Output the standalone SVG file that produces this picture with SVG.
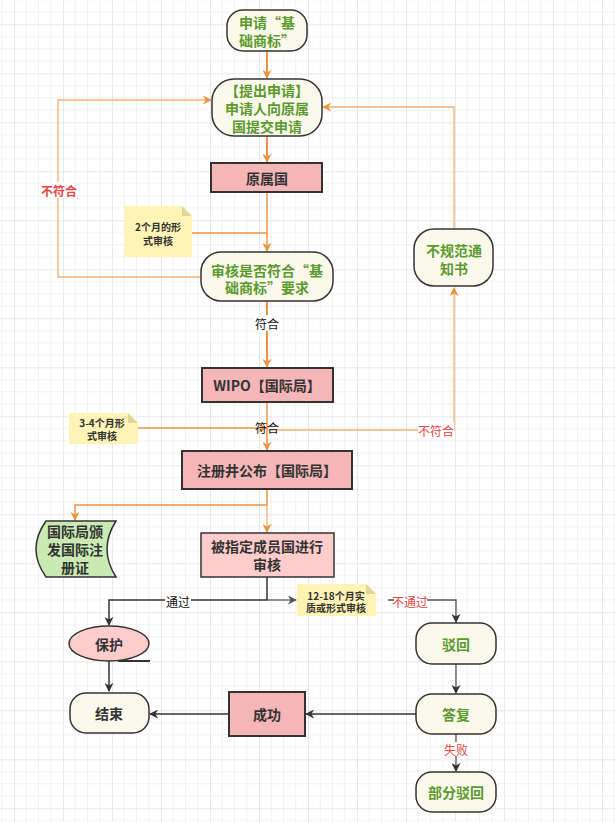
<svg xmlns="http://www.w3.org/2000/svg" width="615" height="822" viewBox="0 0 615 822">
<defs>
  <pattern id="grid" x="14" y="24.3" width="49" height="49" patternUnits="userSpaceOnUse">
    <path d="M12.25 0V49M24.5 0V49M36.75 0V49M0 12.25H49M0 24.5H49M0 36.75H49" stroke="#f2f2f2" stroke-width="1" fill="none"/>
    <path d="M0 0V49M0 0H49" stroke="#e8e8e8" stroke-width="2" fill="none"/>
  </pattern>
  <marker id="ao" viewBox="0 0 10 10" refX="9" refY="5" markerWidth="9" markerHeight="9" markerUnits="userSpaceOnUse" orient="auto">
    <path d="M0,0 L10,5 L0,10 L3,5 z" fill="#ef9340"/>
  </marker>
  <marker id="ad" viewBox="0 0 10 10" refX="9" refY="5" markerWidth="9" markerHeight="9" markerUnits="userSpaceOnUse" orient="auto">
    <path d="M0,0 L10,5 L0,10 L3,5 z" fill="#333"/>
  </marker>
  <marker id="ag" viewBox="0 0 10 10" refX="9" refY="5" markerWidth="9" markerHeight="9" markerUnits="userSpaceOnUse" orient="auto">
    <path d="M0,0 L10,5 L0,10 L3,5 z" fill="#555"/>
  </marker>
</defs>
<style>
  text { font-family: "Noto Sans CJK SC", "Noto Sans", sans-serif; text-anchor: middle; dominant-baseline: central; }
  .term { fill: #fbf9ec; stroke: #333; stroke-width: 1.5; }
  .proc { fill: #f4b6b6; stroke: #333; stroke-width: 2; }
  .proc2 { fill: #ffcccc; stroke: #333; stroke-width: 1.5; }
  .note { fill: #fff3b5; }
  .fold { fill: #e3d594; }
  .g { fill: #5a9a2e; font-size: 14px; font-weight: bold; }
  .d { fill: #333; font-size: 14px; font-weight: bold; }
  .n { fill: #333; font-size: 10px; font-weight: bold; }
  .lbl { fill: #111; font-size: 12px; }
  .red { fill: #e84545; font-size: 12px; }
  .eo { fill: none; stroke: #ef9340; stroke-width: 1.5; }
  .eot { fill: none; stroke: #ef9340; stroke-width: 2; }
  .eol { fill: none; stroke: #f4b173; stroke-width: 1.3; }
  .ed { fill: none; stroke: #333; stroke-width: 1.5; }
  .eg { fill: none; stroke: #555; stroke-width: 1.3; }
</style>
<rect width="615" height="822" fill="#ffffff"/>
<rect width="615" height="822" fill="url(#grid)"/>

<g id="connectors">
  <path class="eot" d="M267 51V78" marker-end="url(#ao)"/>
  <path class="eot" d="M267 136V162" marker-end="url(#ao)"/>
  <path class="eo" d="M267 192V251" marker-end="url(#ao)"/>
  <path class="eo" d="M192 233H267"/>
  <path class="eol" d="M201 277H58V100H211" marker-end="url(#ao)"/>
  <path class="eot" d="M267 301V367" marker-end="url(#ao)"/>
  <path class="eo" d="M267 402V450" marker-end="url(#ao)"/>
  <path class="eo" d="M138 428H267" marker-end="url(#ao)"/>
  <path class="eol" d="M267 430H454V288" marker-end="url(#ao)"/>
  <path class="eol" d="M454 229V107H323" marker-end="url(#ao)"/>
  <path class="eo" d="M267 489V505H75V520" marker-end="url(#ao)"/>
  <path class="eol" d="M267 505V532" marker-end="url(#ao)"/>
  <path class="ed" d="M267 577V600H109V625" marker-end="url(#ad)"/>
  <path class="eg" d="M267 600H296" marker-end="url(#ag)"/>
  <path class="eg" d="M388 600H456V622" marker-end="url(#ad)"/>
  <path class="ed" d="M109 661V691" marker-end="url(#ad)"/>
  <path class="eg" d="M456 664V693" marker-end="url(#ad)"/>
  <path class="ed" d="M416 714H306" marker-end="url(#ad)"/>
  <path class="ed" d="M229 714H150" marker-end="url(#ad)"/>
  <path class="eg" d="M456 734V771" marker-end="url(#ad)"/>

  <rect x="45" y="182" width="28" height="16" fill="#fff"/>
  <text class="red" x="59" y="190" font-weight="bold">不符合</text>
  <rect x="254" y="315" width="26" height="16" fill="#fff"/>
  <text class="lbl" x="267" y="323">符合</text>
  <text class="lbl" x="267" y="427">符合</text>
  <rect x="418" y="422" width="36" height="16" fill="#fff"/>
  <text class="red" x="436" y="430">不符合</text>
  <rect x="165" y="594" width="26" height="14" fill="#fff"/>
  <text class="lbl" x="178" y="601" font-size="11">通过</text>
  <rect x="394" y="594" width="33" height="14" fill="#fff"/>
  <text class="red" x="410" y="601" font-size="11">不通过</text>
  <rect x="444" y="742" width="24" height="14" fill="#fff"/>
  <text class="red" x="456" y="749" font-size="11">失败</text>
</g>

<g id="n-start">
  <rect class="term" x="227" y="10" width="80" height="41" rx="16"/>
  <text class="g" x="267" y="22"><tspan x="267" y="22">申请“基</tspan><tspan x="267" y="40">础商标”</tspan></text>
</g>
<g id="n-apply">
  <rect class="term" x="212" y="79" width="110" height="57" rx="22"/>
  <text class="g"><tspan x="267" y="90">【提出申请】</tspan><tspan x="267" y="108">申请人向原属</tspan><tspan x="267" y="126">国提交申请</tspan></text>
</g>
<g id="n-origin">
  <rect class="proc" x="211" y="163" width="111" height="29"/>
  <text class="d" x="267" y="178">原属国</text>
</g>
<g id="note-2m">
  <path class="note" d="M124 206H182L192 216V257H124Z"/>
  <path class="fold" d="M182 206L192 216H182Z"/>
  <text class="n"><tspan x="158" y="226">2个月的形</tspan><tspan x="158" y="240">式审核</tspan></text>
</g>
<g id="n-check">
  <rect class="term" x="201" y="252" width="132" height="49" rx="20"/>
  <text class="g"><tspan x="267" y="270">审核是否符合“基</tspan><tspan x="267" y="287">础商标”要求</tspan></text>
</g>
<g id="n-notice">
  <rect class="term" x="414" y="229" width="79" height="57" rx="20"/>
  <text class="g"><tspan x="454" y="250">不规范通</tspan><tspan x="454" y="268">知书</tspan></text>
</g>
<g id="n-wipo">
  <rect class="proc" x="202" y="368" width="131" height="34"/>
  <text class="d" x="267" y="385">WIPO【国际局】</text>
</g>
<g id="note-34m">
  <path class="note" d="M69 413H128L138 423V444H69Z"/>
  <path class="fold" d="M128 413L138 423H128Z"/>
  <text class="n"><tspan x="102" y="422">3-4个月形</tspan><tspan x="102" y="435">式审核</tspan></text>
</g>
<g id="n-register">
  <rect class="proc" x="182" y="451" width="170" height="38"/>
  <text class="d" x="267" y="470">注册井公布【国际局】</text>
</g>
<g id="n-cert">
  <path d="M46 521H116Q98 549 116 577H46Q26 549 46 521Z" fill="#c9ebb3" stroke="#333" stroke-width="1.5"/>
  <text class="d"><tspan x="75" y="531">国际局颁</tspan><tspan x="75" y="549">发国际注</tspan><tspan x="75" y="567">册证</tspan></text>
</g>
<g id="n-member">
  <rect class="proc2" x="201" y="533" width="133" height="44"/>
  <text class="d"><tspan x="267" y="546">被指定成员国进行</tspan><tspan x="267" y="564">审核</tspan></text>
</g>
<g id="note-12m">
  <path class="note" d="M297 584H366L376 594V616H297Z"/>
  <path class="fold" d="M366 584L376 594H366Z"/>
  <text class="n"><tspan x="336" y="595">12-18个月实</tspan><tspan x="336" y="607">质或形式审核</tspan></text>
</g>
<g id="n-protect">
  <ellipse cx="109" cy="643.5" rx="40" ry="17.5" fill="#ffcccc" stroke="#333" stroke-width="1.5"/>
  <path d="M118 661H150" stroke="#333" stroke-width="2"/>
  <text class="d" x="109" y="644">保护</text>
</g>
<g id="n-end">
  <rect class="term" x="70" y="693" width="79" height="40" rx="16"/>
  <text class="d" x="109" y="713">结束</text>
</g>
<g id="n-success">
  <rect class="proc" x="229" y="692" width="76" height="44" stroke-width="1.5"/>
  <text class="d" x="267" y="714">成功</text>
</g>
<g id="n-reject">
  <rect class="term" x="416" y="623" width="80" height="41" rx="16" stroke="#555"/>
  <text class="g" x="456" y="644">驳回</text>
</g>
<g id="n-reply">
  <rect class="term" x="416" y="694" width="80" height="40" rx="16" stroke="#555"/>
  <text class="g" x="456" y="714">答复</text>
</g>
<g id="n-partial">
  <rect class="term" x="416" y="772" width="80" height="40" rx="16" stroke="#555"/>
  <text class="g" x="456" y="792">部分驳回</text>
</g>
</svg>
